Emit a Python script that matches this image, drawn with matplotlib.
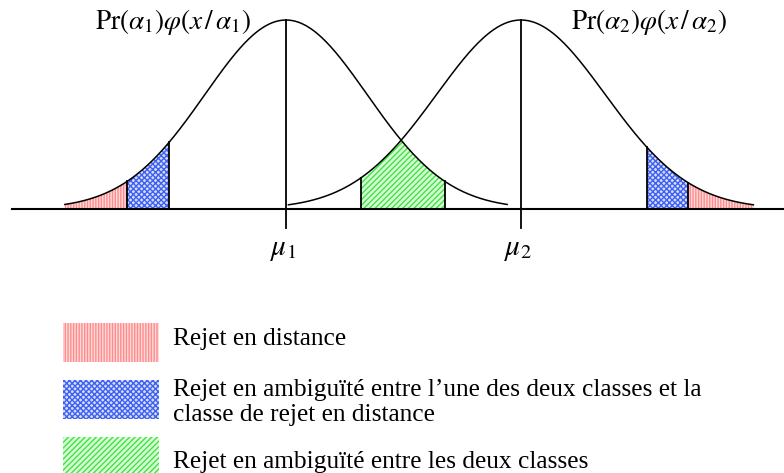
import numpy as np
import matplotlib
matplotlib.use("Agg")
import matplotlib.pyplot as plt
from matplotlib.patches import Rectangle

# ---- data (units: sigma of class 1; peak height = 1) ----
mu = [0.0, 2.90]                 # class means
sigma = [1.0, 1.04]              # class spreads
span = [2.73, 2.76]              # drawn extent of each curve, in sigmas
# shaded regions (x start, x end)
left_red = (-2.73, -1.963)
left_blue = (-1.963, -1.444)
green = (0.926, 1.963)
right_blue = (4.457, 4.963)
right_red = (4.963, 5.77)
curve_labels = [r'$\mathrm{Pr}(\alpha_1)\varphi(x\,/\,\alpha_1)$',
                r'$\mathrm{Pr}(\alpha_2)\varphi(x\,/\,\alpha_2)$']
mu_labels = [r'$\mu_1$', r'$\mu_2$']
legend_lines = ["Rejet en distance",
                "Rejet en ambiguïté entre l\u2019une des deux classes et la",
                "classe de rejet en distance",
                "Rejet en ambiguïté entre les deux classes"]

plt.rcParams['mathtext.fontset'] = 'stix'
plt.rcParams['font.family'] = ['Liberation Serif', 'DejaVu Serif']
plt.rcParams['hatch.linewidth'] = 1.0

W, H = 784, 473
fig = plt.figure(figsize=(W / 100, H / 100), dpi=100)
ax = fig.add_axes([0, 0, 1, 1])
sx = 81.0   # px per unit x
sy = 189.0  # px per unit y
x0px, y0px = 286.0, 264.0  # pixel position of (0,0) from left / bottom
ax.set_xlim(-x0px / sx, (W - x0px) / sx)
ax.set_ylim(-y0px / sy, (H - y0px) / sy)
ax.axis('off')

def g(x, k):
    return np.exp(-0.5 * ((x - mu[k]) / sigma[k]) ** 2)

RED = dict(facecolor='#ffdada', edgecolor='#ff8c8c', hatch='||||||', linewidth=0)
BLUE = dict(facecolor='#d8dcff', edgecolor='#3d62f0', hatch='xxxxxx', linewidth=0)
GREEN = dict(facecolor='#d6ffd6', edgecolor='#44e044', hatch='//////', linewidth=0)

def shade(a, b, func, style):
    xs = np.linspace(a, b, 200)
    ax.fill_between(xs, 0, func(xs), **style, zorder=1)

shade(*left_red, lambda x: g(x, 0), RED)
shade(*left_blue, lambda x: g(x, 0), BLUE)
shade(*green, lambda x: np.minimum(g(x, 0), g(x, 1)), GREEN)
shade(*right_blue, lambda x: g(x, 1), BLUE)
shade(*right_red, lambda x: g(x, 1), RED)

# boundary lines
for xb, k in [(left_red[1], 0), (left_blue[1], 0), (right_blue[0], 1), (right_red[0], 1)]:
    ax.plot([xb, xb], [0, g(xb, k)], color='black', lw=1.3, zorder=3)
for xb in green:
    ax.plot([xb, xb], [0, min(g(xb, 0), g(xb, 1))], color='black', lw=1.3, zorder=3)

# curves
for k in range(2):
    xs = np.linspace(mu[k] - span[k] * sigma[k], mu[k] + span[k] * sigma[k], 400)
    ax.plot(xs, g(xs, k), color='black', lw=1.1, zorder=4)
    ax.plot([mu[k], mu[k]], [-0.10, 1.0], color='black', lw=1.3, zorder=4)
    ax.text(mu[k] - 0.03, -0.217, mu_labels[k], fontsize=21, ha='center', va='center')

# baseline
ax.plot([(12 - x0px) / sx, (W - x0px) / sx], [0, 0], color='black', lw=1.5, zorder=5)

# curve labels
ax.text(mu[0] - 1.40, 0.989, curve_labels[0], fontsize=19.6, ha='center', va='center')
ax.text(mu[1] + 1.58, 0.989, curve_labels[1], fontsize=19.6, ha='center', va='center')

# legend
swatch_rows = [(323, 362, RED), (380, 419, BLUE), (437, 476, GREEN)]
for (top, bot, st) in swatch_rows:
    r = Rectangle((63 / W, 1 - bot / H), 96 / W, (bot - top) / H,
                  transform=fig.transFigure, **st)
    fig.patches.append(r)
baselines = [345, 396, 421, 468]
for t, yy in zip(legend_lines, baselines):
    fig.text(173 / W, 1 - yy / H, t, fontsize=18.3, ha='left', va='baseline')

fig.savefig('out.png', dpi=100)
